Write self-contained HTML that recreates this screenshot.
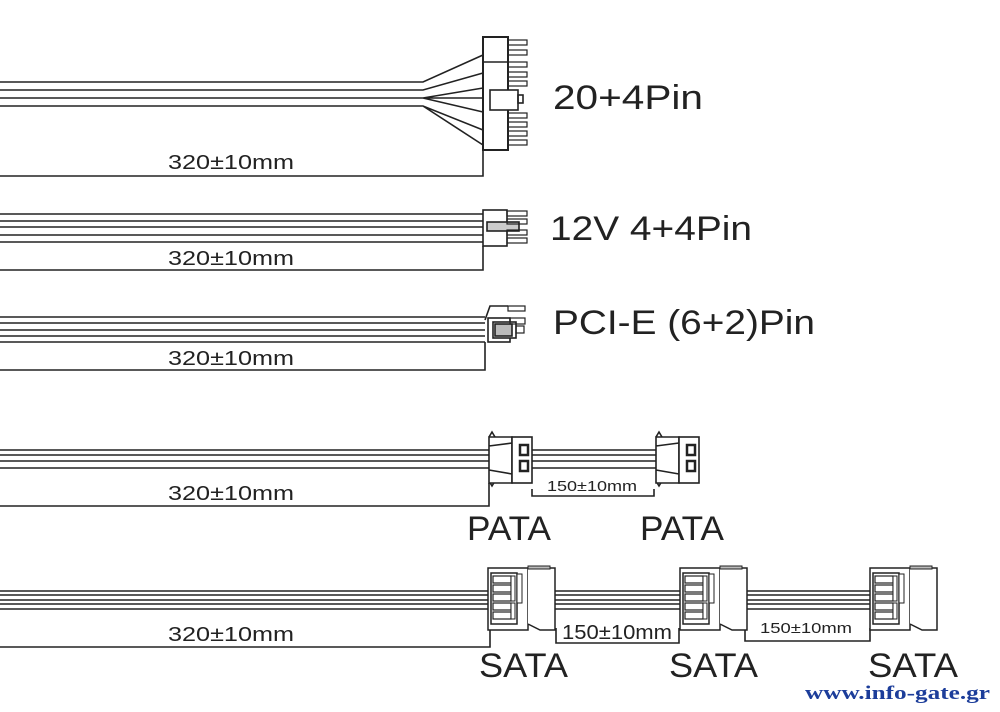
<!DOCTYPE html>
<html><head><meta charset="utf-8"><style>
html,body{margin:0;padding:0;background:#fff;}
svg{display:block;}
text{font-family:"Liberation Sans","DejaVu Sans",sans-serif;fill:#222;}
</style></head><body>
<svg width="1000" height="712" viewBox="0 0 1000 712" xmlns="http://www.w3.org/2000/svg">
<defs>
<g id="sata" stroke="#222" fill="#fff" stroke-width="1.5">
<rect x="0" y="0" width="40" height="62"/>
<path d="M40 0H67V62H52L40 56"/>
<rect x="3" y="5" width="26" height="51" fill="#fff"/>
<rect x="5" y="8" width="18" height="7" stroke-width="1.2"/>
<rect x="5" y="17" width="18" height="7" stroke-width="1.2"/>
<rect x="5" y="26" width="18" height="7" stroke-width="1.2"/>
<rect x="5" y="35" width="18" height="7" stroke-width="1.2"/>
<rect x="5" y="44" width="18" height="7" stroke-width="1.2"/>
<rect x="23" y="8" width="4" height="25" stroke-width="1"/>
<rect x="23" y="35" width="4" height="16" stroke-width="1"/>
<rect x="29" y="6" width="5" height="29" stroke-width="1"/>
<rect x="40" y="-2" width="22" height="3" fill="#bbb" stroke-width="1"/>
</g>
</defs>
<g stroke="#222" fill="none" stroke-width="1.6">
<path d="M0 82H423L483 55 M0 90H423L483 73 M0 98H423L483 88 M0 106H423L483 130 M423 98L483 98 M423 98L483 112 M423 106L483 145"/>
<rect x="483" y="37" width="25" height="113" fill="#fff" stroke-width="2"/>
<line x1="484" y1="62" x2="508" y2="62"/>
<rect x="490" y="90" width="28" height="20" fill="#fff"/>
<rect x="518" y="95" width="5" height="8"/>
<g stroke-width="1.2">
<rect x="508" y="40" width="19" height="5"/><rect x="508" y="50" width="19" height="5"/>
<rect x="508" y="62" width="19" height="5"/><rect x="508" y="72" width="19" height="5"/>
<rect x="508" y="81" width="19" height="5"/><rect x="508" y="113" width="19" height="5"/>
<rect x="508" y="122" width="19" height="5"/><rect x="508" y="131" width="19" height="5"/>
<rect x="508" y="140" width="19" height="5"/>
</g>
<path d="M0 176H483V150"/>
<path d="M0 214H483 M0 221H483 M0 227H483 M0 235H483 M0 242H483"/>
<rect x="483" y="210" width="24" height="36" fill="#fff"/>
<rect x="487" y="222" width="32" height="9" fill="#ccc"/>
<g stroke-width="1.2"><rect x="507" y="211" width="20" height="5"/><rect x="507" y="219" width="20" height="5"/><rect x="507" y="230" width="20" height="5"/><rect x="507" y="238" width="20" height="5"/></g>
<path d="M0 270H483V246"/>
<path d="M0 317H485 M0 323H485 M0 330H485 M0 336H485 M0 342H485"/>
<path d="M485 320L490 306H508"/>
<rect x="488" y="318" width="22" height="24" fill="#fff"/>
<rect x="493" y="322" width="23" height="16" fill="#fff"/>
<rect x="495" y="324" width="17" height="12" fill="#bbb"/>
<g stroke-width="1.2"><rect x="508" y="306" width="17" height="5"/><rect x="510" y="318" width="15" height="6"/><rect x="516" y="326" width="8" height="7"/></g>
<path d="M485 342V370H0"/>
<path d="M0 450H489 M0 455H489 M0 461H489 M0 468H489"/>
<path d="M532 450H656 M532 455H656 M532 461H656 M532 468H656"/>
<path d="M489 437L492 432L495 437 M489 481L492 486L495 481"/>
<path d="M489 437H512V483H489Z M489 446L512 443 M489 470L512 474" fill="#fff"/>
<rect x="512" y="437" width="20" height="46" fill="#fff"/>
<rect x="520" y="445" width="8" height="10" stroke-width="2.5"/><rect x="520" y="461" width="8" height="10" stroke-width="2.5"/>
<path d="M656 437L659 432L662 437 M656 481L659 486L662 481"/>
<path d="M656 437H679V483H656Z M656 446L679 443 M656 470L679 474" fill="#fff"/>
<rect x="679" y="437" width="20" height="46" fill="#fff"/>
<rect x="687" y="445" width="8" height="10" stroke-width="2.5"/><rect x="687" y="461" width="8" height="10" stroke-width="2.5"/>
<path d="M532 489V496H654V489"/>
<path d="M0 506H489V483"/>
<path d="M0 591H490 M0 595H490 M0 600H490 M0 604H490 M0 609H490"/>
<path d="M552 591H680 M552 595H680 M552 600H680 M552 604H680 M552 609H680"/>
<path d="M745 591H870 M745 595H870 M745 600H870 M745 604H870 M745 609H870"/>
<path d="M490 628V647H0 M556 628V643H679V628 M745 628V641H870V628"/>
</g>
<use href="#sata" x="488" y="568"/>
<use href="#sata" x="680" y="568"/>
<use href="#sata" x="870" y="568"/>
<g font-size="20">
<text x="168" y="169" textLength="126" lengthAdjust="spacingAndGlyphs">320±10mm</text>
<text x="168" y="265" textLength="126" lengthAdjust="spacingAndGlyphs">320±10mm</text>
<text x="168" y="365" textLength="126" lengthAdjust="spacingAndGlyphs">320±10mm</text>
<text x="168" y="500" textLength="126" lengthAdjust="spacingAndGlyphs">320±10mm</text>
<text x="168" y="641" textLength="126" lengthAdjust="spacingAndGlyphs">320±10mm</text>
<text x="562" y="639" textLength="110" lengthAdjust="spacingAndGlyphs">150±10mm</text>
</g>
<text x="547" y="491" font-size="15" textLength="90" lengthAdjust="spacingAndGlyphs">150±10mm</text>
<text x="760" y="633" font-size="15" textLength="92" lengthAdjust="spacingAndGlyphs">150±10mm</text>
<g font-size="34">
<text x="553" y="109" textLength="150" lengthAdjust="spacingAndGlyphs">20+4Pin</text>
<text x="550" y="240" textLength="202" lengthAdjust="spacingAndGlyphs">12V 4+4Pin</text>
<text x="553" y="334" textLength="262" lengthAdjust="spacingAndGlyphs">PCI-E (6+2)Pin</text>
<text x="467" y="540" textLength="84" lengthAdjust="spacingAndGlyphs">PATA</text>
<text x="640" y="540" textLength="84" lengthAdjust="spacingAndGlyphs">PATA</text>
<text x="479" y="677" textLength="89" lengthAdjust="spacingAndGlyphs">SATA</text>
<text x="669" y="677" textLength="89" lengthAdjust="spacingAndGlyphs">SATA</text>
<text x="868" y="677" textLength="90" lengthAdjust="spacingAndGlyphs">SATA</text>
</g>
<text x="805" y="699" font-size="19" font-weight="bold" style="font-family:'Liberation Serif',serif;fill:#1c3d9a" textLength="185" lengthAdjust="spacingAndGlyphs">www.info-gate.gr</text>
</svg>
</body></html>
